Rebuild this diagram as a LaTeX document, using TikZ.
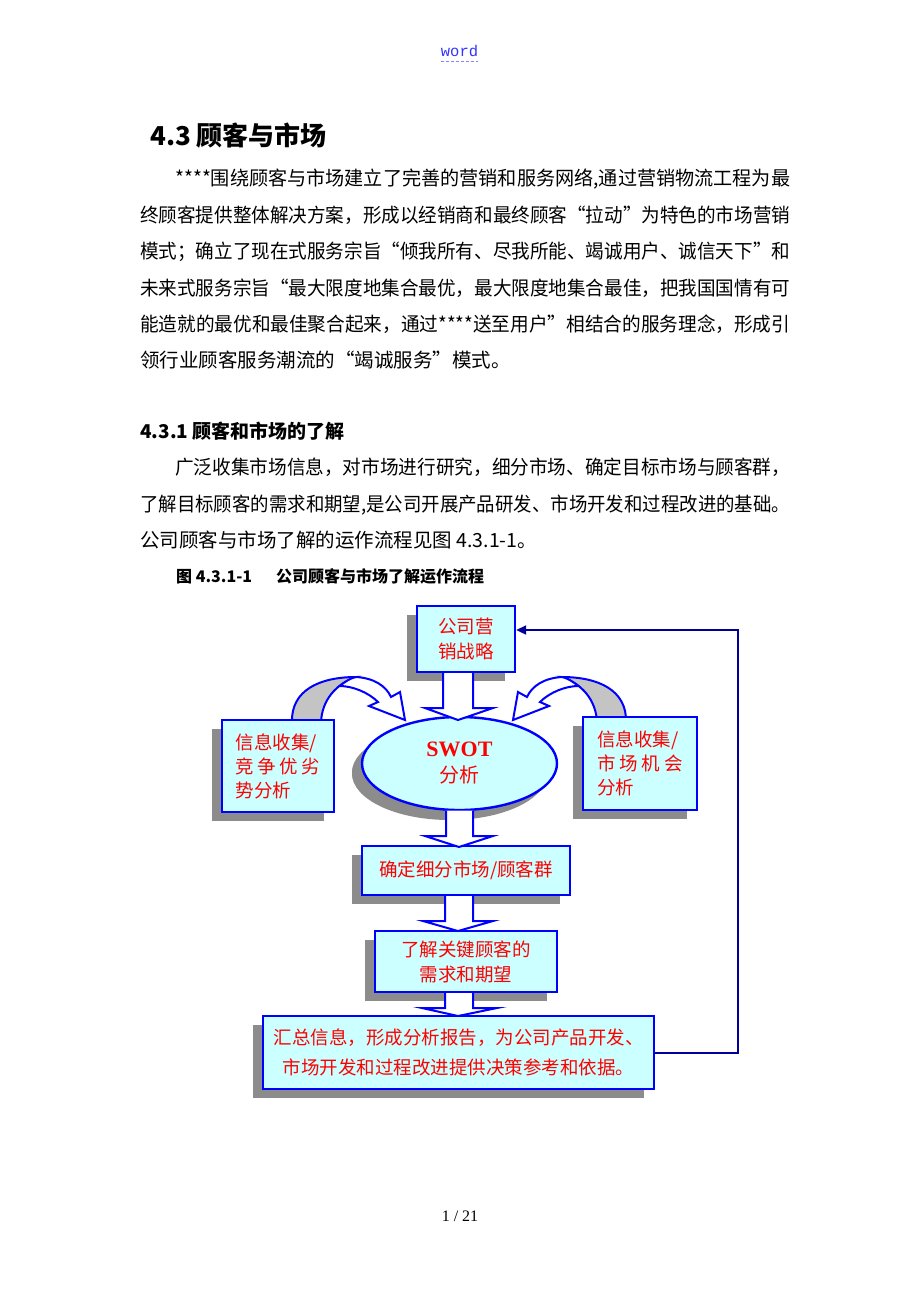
\documentclass[tikz,border=0pt]{standalone}
\usepackage{fontspec}
\usepackage{graphicx}
\setmainfont{Liberation Serif}
\newfontfamily\cjk{Noto Sans CJK SC}
\newfontfamily\monof{Liberation Mono}
\newfontfamily\serifb{Liberation Serif}
\usetikzlibrary{shadows,arrows.meta,calc,shapes.geometric}
\definecolor{boxfill}{HTML}{CCFFFF}
\definecolor{boxline}{HTML}{0000FF}
\definecolor{navyline}{HTML}{000099}
\definecolor{shadowgray}{HTML}{8C8C8C}
\definecolor{ribbongray}{HTML}{C4C4C4}
\definecolor{txtred}{HTML}{FF0000}
\definecolor{linkblue}{HTML}{3333FF}
\newcommand\justline[2]{\resizebox{#1pt}{\height}{#2}}
\tikzset{
  bodytext/.style={anchor=base west, inner sep=0pt, font=\cjk\fontsize{19.5}{24}\selectfont},
  flowbox/.style={draw=boxline, line width=2.4pt, fill=boxfill, inner sep=0pt,
    text=txtred, font=\cjk\fontsize{18.5}{24}\selectfont, align=center,
    drop shadow={shadow xshift=-10pt, shadow yshift=-9pt, fill=shadowgray, opacity=1}},
  blockarrow/.style={draw=boxline, line width=2pt, fill=white, line join=miter},
  ribbonback/.style={draw=boxline, line width=2pt, fill=ribbongray},
  ribbonfront/.style={draw=boxline, line width=2pt, fill=white, line join=miter},
  feedback/.style={draw=navyline, line width=2pt, -{Triangle[length=10pt,width=9pt]}},
}
\begin{document}
\begin{tikzpicture}[x=1pt,y=-1pt]
\path[use as bounding box, fill=white] (0,0) rectangle (920,1302);

% ---- page text ----
\node[anchor=base, inner sep=0pt, text=linkblue, font=\monof\fontsize{15.5}{18}\selectfont] (word) at (459.5,56) {word};
\draw[linkblue!60, line width=1pt, dash pattern=on 3pt off 2pt] ([yshift=-5pt]word.base west) -- ([yshift=-5pt]word.base east);

\node[anchor=base west, inner sep=0pt, font=\cjk\bfseries\fontsize{26}{30}\selectfont] (h43) at (150,145) {4.3 顾客与市场};

\node[bodytext] (p1l1) at (175,185.5) {\justline{615}{****围绕顾客与市场建立了完善的营销和服务网络,通过营销物流工程为最}};
\node[bodytext] (p1l2) at (140,222.5) {\justline{650}{终顾客提供整体解决方案，形成以经销商和最终顾客“拉动”为特色的市场营销}};
\node[bodytext] (p1l3) at (140,258.5) {\justline{650}{模式；确立了现在式服务宗旨“倾我所有、尽我所能、竭诚用户、诚信天下”和}};
\node[bodytext] (p1l4) at (140,295.5) {\justline{650}{未来式服务宗旨“最大限度地集合最优，最大限度地集合最佳，把我国国情有可}};
\node[bodytext] (p1l5) at (140,331.5) {\justline{650}{能造就的最优和最佳聚合起来，通过****送至用户”相结合的服务理念，形成引}};
\node[bodytext] (p1l6) at (140,367.5) {领行业顾客服务潮流的“竭诚服务”模式。};

\node[anchor=base west, inner sep=0pt, font=\cjk\bfseries\fontsize{19}{22}\selectfont] (h431) at (140,438) {4.3.1 顾客和市场的了解};

\node[bodytext] (p2l1) at (175,474.5) {\justline{615}{广泛收集市场信息，对市场进行研究，细分市场、确定目标市场与顾客群，}};
\node[bodytext] (p2l2) at (140,511.5) {\justline{650}{了解目标顾客的需求和期望,是公司开展产品研发、市场开发和过程改进的基础。}};
\node[bodytext] (p2l3) at (140,547.5) {公司顾客与市场了解的运作流程见图 4.3.1-1。};

\node[anchor=base west, inner sep=0pt, font=\cjk\bfseries\fontsize{16}{20}\selectfont] (cap) at (176,582) {图 4.3.1-1\hspace{24pt}公司顾客与市场了解运作流程};

\node[anchor=base, inner sep=0pt, font=\fontsize{16}{20}\selectfont] (pageno) at (460,1221) {1 / 21};

% ---- curved arrows (left, then mirrored right) ----
\begin{scope}
  \path[ribbonback] (292,722) .. controls (291,690) and (320,677) .. (356,677)
     .. controls (336,684) and (322,700) .. (321,722) -- cycle;
  \path[ribbonfront] (356,677) .. controls (374,678) and (386,686) .. (391,697)
     -- (400,692) -- (405,720) -- (369,706) -- (378,702)
     .. controls (368,692) and (352,686) .. (339.6,686)
     .. controls (346,681) and (351,678) .. (356,677) -- cycle;
\end{scope}
\begin{scope}[xshift=918pt, xscale=-1]
  \path[ribbonback] (292,722) .. controls (291,690) and (320,677) .. (356,677)
     .. controls (336,684) and (322,700) .. (321,722) -- cycle;
  \path[ribbonfront] (356,677) .. controls (374,678) and (386,686) .. (391,697)
     -- (400,692) -- (405,720) -- (369,706) -- (378,702)
     .. controls (368,692) and (352,686) .. (339.6,686)
     .. controls (346,681) and (351,678) .. (356,677) -- cycle;
\end{scope}

% ---- flow nodes ----
\node[flowbox, minimum width=98pt, minimum height=66pt] (strat) at (466,639)
  {公司营\\[1pt]销战略};
\node[flowbox, minimum width=112pt, minimum height=92pt] (info1) at (278,766)
  {\makebox[85pt][l]{信息收集/}\\ \makebox[85pt]{竞\hfill 争\hfill 优\hfill 劣}\\ \makebox[85pt][l]{势分析}};
\node[flowbox, minimum width=114pt, minimum height=93pt] (info2) at (640,763.5)
  {\makebox[86pt][l]{信息收集/}\\ \makebox[86pt]{市\hfill 场\hfill 机\hfill 会}\\ \makebox[86pt][l]{分析}};
\node[flowbox, ellipse, minimum width=195pt, minimum height=93pt,
  drop shadow={shadow xshift=-10pt, shadow yshift=-10pt, fill=shadowgray, opacity=1}] (swot) at (459.5,763.5)
  {{\serifb\bfseries\fontsize{22}{26}\selectfont SWOT}\\[2pt]{\fontsize{20}{24}\selectfont 分析}};
\node[flowbox, minimum width=208pt, minimum height=49pt] (seg) at (466,870.5)
  {确定细分市场/顾客群};
\node[flowbox, minimum width=182pt, minimum height=61pt] (needs) at (466,961.5)
  {了解关键顾客的\\[1pt]需求和期望};
\node[flowbox, minimum width=391pt, minimum height=73pt] (summ) at (458.5,1052.5)
  {\raisebox{-2pt}{汇总信息，形成分析报告，为公司产品开发、}\\[6pt]\raisebox{-2pt}{市场开发和过程改进提供决策参考和依据。}};

% ---- block arrows ----
\filldraw[blockarrow] (443,673) -- (443,708) -- (425,708) -- (458,720) -- (493,708) -- (473,708) -- (473,673);
\filldraw[blockarrow] (446,810.5) -- (446,836) -- (425,836) -- (459,847) -- (493,836) -- (473,836) -- (473,810.5);
\filldraw[blockarrow] (445,896) -- (445,921) -- (423,921) -- (458,931) -- (493,921) -- (473,921) -- (473,896);
\filldraw[blockarrow] (445,993) -- (445,1008) -- (422,1008) -- (458,1016) -- (497,1008) -- (473,1008) -- (473,993);

% ---- feedback loop ----
\coordinate (fbtop) at (738,630);
\draw[feedback] (summ.east) -| (fbtop) -- (strat.east |- fbtop);
\end{tikzpicture}
\end{document}
